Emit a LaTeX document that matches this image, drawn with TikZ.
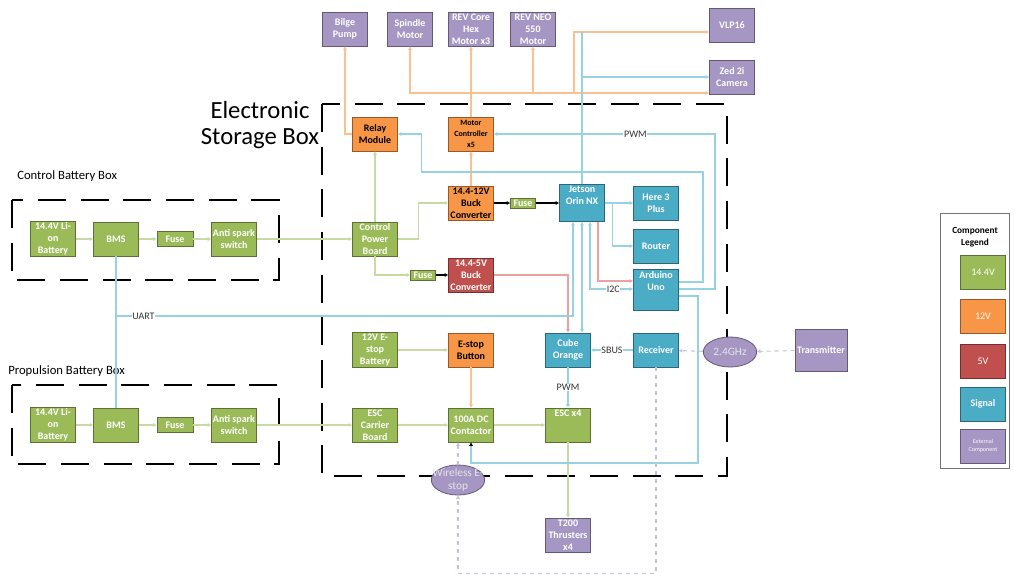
\documentclass[tikz,border=0pt]{standalone}
\usepackage{fontspec}
\setmainfont{Carlito}
\usepackage{tikz}
\usetikzlibrary{arrows.meta,shapes.geometric,calc}
\definecolor{c144}{HTML}{9BBB59}
\definecolor{c12}{HTML}{F79646}
\definecolor{c5}{HTML}{C0504D}
\definecolor{csig}{HTML}{4BACC6}
\definecolor{cext}{HTML}{A696C4}
\definecolor{w144}{HTML}{C8DAA3}
\definecolor{w12}{HTML}{FAC090}
\definecolor{w5}{HTML}{E8A3A1}
\definecolor{wsig}{HTML}{97D2E2}
\definecolor{wext}{HTML}{C9BEDD}
\tikzset{
  comp/.style={draw=#1!60!black, fill=#1, line width=0.6pt, minimum width=33.75pt,
    minimum height=25.5pt, inner sep=1pt, align=center, text=white,
    font=\fontsize{7.5}{9}\selectfont\bfseries},
  box144/.style={comp=c144},
  box12/.style={comp=c12, text=black},
  box5/.style={comp=c5},
  boxsig/.style={comp=csig},
  boxext/.style={comp=cext},
  fusebox/.style={comp=c144, minimum width=18.75pt, minimum height=7.5pt, inner sep=0pt},
  bigfuse/.style={comp=c144, minimum width=27pt, minimum height=11.25pt, inner sep=0pt},
  radio/.style={ellipse, draw=cext!60!black, fill=cext, line width=0.6pt, text=white!90!black,
    minimum width=40pt, minimum height=22.5pt, inner sep=-5pt, align=center,
    font=\fontsize{8.5}{10}\selectfont},
  wire/.style={line width=0.8pt, -{Triangle[length=2.6pt,width=2.6pt]}},
  wire2/.style={line width=0.8pt, {Triangle[length=2.6pt,width=2.6pt]}-{Triangle[length=2.6pt,width=2.6pt]}},
  plain/.style={line width=0.8pt},
  dwire/.style={wire, wext, dashed},
  boxline/.style={line width=1.5pt, dash pattern=on 21pt off 11pt},
  lbl/.style={fill=white, inner sep=0.5pt, text=black!80, font=\fontsize{7.5}{9}\selectfont},
  boxtitle/.style={font=\fontsize{9.5}{11}\selectfont, anchor=west, inner sep=0pt},
}

\begin{document}
\begin{tikzpicture}[x=0.75pt, y=-0.75pt]
\useasboundingbox (0,0) rectangle (1014,575);

% ---- enclosures ----
\draw[boxline] (12,200) rectangle (279,280);
\draw[boxline] (12,385) rectangle (279,464);
\draw[boxline] (322,104) rectangle (727,476);
\node[boxtitle] (ctitle) at (17,176) {Control Battery Box};
\node[boxtitle] (ptitle) at (8,371) {Propulsion Battery Box};
\node[font=\fontsize{18.5}{20}\selectfont, align=center] (esbtitle) at (260,125) {Electronic\\Storage Box};

% ---- external parts ----
\node[boxext] (bilge) at (345,29) {Bilge\\Pump};
\node[boxext] (spindle) at (410,29) {Spindle\\Motor};
\node[boxext] (hex) at (471,29) {REV Core\\Hex\\Motor x3};
\node[boxext] (neo) at (533,29) {REV NEO\\550\\Motor};
\node[boxext] (vlp) at (732,25) {VLP16};
\node[boxext] (zed) at (732,77) {Zed 2i\\Camera};
\node[boxext, minimum width=39pt, minimum height=31.5pt] (tx) at (821,350) {Transmitter};
\node[boxext] (t200) at (568,535) {T200\\Thrusters\\x4};

% ---- control battery box ----
\node[box144] (cbat) at (53,239) {14.4V Li-\\on\\Battery};
\node[box144] (cbms) at (116,239) {BMS};
\node[bigfuse] (cfuse) at (175,239) {Fuse};
\node[box144] (cspark) at (234,239) {Anti spark\\switch};

% ---- propulsion battery box ----
\node[box144] (pbat) at (53,425) {14.4V Li-\\on\\Battery};
\node[box144] (pbms) at (116,425) {BMS};
\node[bigfuse] (pfuse) at (175,425) {Fuse};
\node[box144] (pspark) at (234,425) {Anti spark\\switch};

% ---- storage box ----
\node[box12] (relay) at (375,134) {Relay\\Module};
\node[box12, font=\fontsize{6}{8}\selectfont\bfseries] (mc) at (471,134) {Motor\\Controller\\x5};
\node[box144] (cpb) at (375,239) {Control\\Power\\Board};
\node[box12] (buck12) at (471,203) {14.4-12V\\Buck\\Converter};
\node[fusebox] (fuse12) at (523,203) {Fuse};
\node[fusebox] (fuse5) at (423,275) {Fuse};
\node[box5] (buck5) at (471,275) {14.4-5V\\Buck\\Converter};
\node[boxsig] (jetson) at (582,203) {Jetson\\Orin NX\\[3pt]};
\node[boxsig] (here) at (656,203) {Here 3\\Plus};
\node[boxsig] (router) at (656,246) {Router};
\node[boxsig] (ard) at (656,290) {Arduino\\Uno\\[5pt]};
\node[box144] (ebat) at (375,350) {12V E-\\stop\\Battery};
\node[box12] (ebtn) at (471,350) {E-stop\\Button};
\node[boxsig] (cube) at (568,350) {Cube\\Orange};
\node[boxsig] (recv) at (656,350) {Receiver};
\node[box144] (carrier) at (375,425) {ESC\\Carrier\\Board};
\node[box144] (cont) at (471,425) {100A DC\\Contactor};
\node[box144] (esc) at (568,425) {ESC x4\\[9pt]};
\node[radio] (westop) at (458,480) {Wireless E-\\stop};
\node[radio] (ghz) at (730,352) {2.4GHz};

% ---- battery chains ----
\draw[wire,w144] (cbat) -- (cbms);
\draw[wire,w144] (cbms) -- (cfuse);
\draw[wire,w144] (cfuse) -- (cspark);
\draw[wire,w144] (cspark) -- (cpb);
\draw[wire,w144] (pbat) -- (pbms);
\draw[wire,w144] (pbms) -- (pfuse);
\draw[wire,w144] (pfuse) -- (pspark);
\draw[wire,w144] (pspark) -- (carrier);

% ---- power ----
\draw[wire,w144] (cpb.north) -- (relay.south);
\draw[wire,w144] (cpb.east) -- ++(21,0) |- (buck12.west);
\draw[wire,w144] (cpb.south) |- (fuse5.west);
\draw[wire,black] (fuse5) -- (buck5);
\draw[wire,black] (buck12) -- (fuse12);
\draw[wire,black] (fuse12) -- (jetson);
\draw[wire,w12] (buck12.north) -- (mc.south);
\draw[wire,w12] (relay.west) -| (bilge.south);
\coordinate (otree) at (471,93);
\coordinate (vtap) at (574,93);
\coordinate (vin) at ($(vlp.west)+(0,7)$);
\draw[wire,w12] (mc.north) -- (hex.south);
\draw[wire,w12] (otree) -| (spindle.south);
\draw[wire,w12] (otree) -| (neo.south);
\draw[wire,w12] (otree) -- (otree -| zed.west);
\draw[wire,w12] (vtap) |- (vin);
\draw[wire,w5] (buck5.east) -| (cube.north);
\draw[wire,w5] ($(jetson.south)+(16,0)$) |- ($(ard.west)+(0,-9)$);
\draw[wire,w144] (ebat) -- (ebtn);
\draw[wire,w12] (ebtn) -- (cont);
\draw[wire,w144] (carrier) -- (cont);
\draw[wire,w144] (cont) -- (esc);
\draw[wire,w144] (esc) -- (t200);

% ---- signal ----
\draw[plain,wsig] (cbms) -- (pbms);
\draw[wire,wsig] (116,316) -| node[lbl,pos=0.03]{UART} ($(jetson.south)+(-9,0)$);
\draw[plain,wsig] (jetson.north) -- (jetson.north |- vin);
\draw[wire,wsig] (jetson.north |- zed.west) -- (zed.west);
\draw[wire,wsig] (jetson) -- (here);
\draw[wire,wsig] ($(jetson.east)+(8,0)$) |- (router.west);
\draw[wire2,wsig] (jetson.south) -- (jetson.south |- cube.north);
\draw[wire2,wsig] ($(jetson.south)+(8,0)$) |- node[lbl,pos=0.77]{I2C} ($(ard.west)+(0,-1)$);
\draw[wire,wsig] ($(ard.east)+(0,-8)$) -| (703,172) -| ($(relay.east)+(24,0)$) -- (relay.east);
\draw[wire,wsig] ($(ard.east)+(0,-1)$) -| (715,134) -- node[lbl,pos=0.36]{PWM} (mc.east);
\draw[plain,wsig,-{Triangle[length=2.6pt,width=2.6pt,color=black]}] ($(ard.east)+(0,6)$) -| (698,463) -| (cont.south);
\draw[wire,wsig] (recv) -- node[lbl]{SBUS} (cube);
\draw[wire,wsig] (cube) -- node[lbl]{PWM} (esc);

% ---- radio ----
\draw[dwire] (tx) -- (ghz);
\draw[dwire] (ghz) -- (recv);
\draw[dwire] (recv.south) -- ++(0,206) -| (westop.south);
\draw[dwire] (westop.north) -- (westop.north |- cont.south);

% ---- legend ----
\draw[black!55, line width=0.6pt] (940,213) rectangle (1009,468);
\node[font=\fontsize{7}{9}\selectfont\bfseries, align=center] (legtitle) at (975,237) {Component\\Legend};
\node[comp=c144, font=\fontsize{7.5}{9}\selectfont] (leg144) at (983,272) {14.4V};
\node[comp=c12, font=\fontsize{7.5}{9}\selectfont] (leg12) at (983,316) {12V};
\node[comp=c5, font=\fontsize{7.5}{9}\selectfont] (leg5) at (983,361) {5V};
\node[comp=csig, font=\fontsize{7.5}{9}\selectfont\bfseries] (legsig) at (983,404) {Signal};
\node[comp=cext, font=\fontsize{4.5}{6}\selectfont] (legext) at (983,446) {External\\Component};

\end{tikzpicture}
\end{document}
